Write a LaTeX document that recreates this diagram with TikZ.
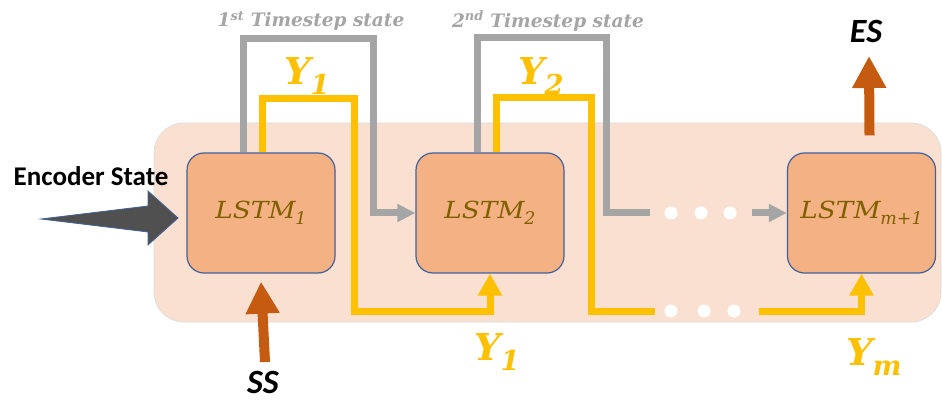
\documentclass[tikz,border=0pt]{standalone}
\usepackage{fontspec}
\newfontfamily\calibri{Carlito}
\newfontfamily\dserif{DejaVu Serif}
\usetikzlibrary{arrows.meta}
\definecolor{panelfill}{HTML}{F9E0D0}
\definecolor{panelline}{HTML}{DDDDDD}
\definecolor{boxfill}{HTML}{F4B183}
\definecolor{boxline}{HTML}{41619C}
\definecolor{olive}{HTML}{7F6000}
\definecolor{ygold}{HTML}{FFC000}
\definecolor{sgray}{HTML}{A5A5A5}
\definecolor{rust}{HTML}{C55A11}
\definecolor{encgray}{HTML}{505050}
\newcommand{\sbx}[1]{\raisebox{-0.27em}{\fontsize{0.74em}{1em}\selectfont #1}}
\tikzset{
  panelbox/.style={fill=panelfill,draw=panelline,line width=0.8pt,rounded corners=30pt},
  lstm/.style={fill=boxfill,draw=boxline,line width=1.2pt,rounded corners=17pt,
    minimum width=148pt,minimum height=120pt,inner sep=0pt,text=olive,
    font=\dserif\itshape\fontsize{23.5}{26}\selectfont},
  grayline/.style={draw=sgray,line width=7pt},
  grayarrow/.style={grayline,-{Triangle[length=18pt,width=17pt]}},
  yline/.style={draw=ygold,line width=7pt},
  yarrow/.style={yline,-{Triangle[length=22pt,width=23pt]}},
  bigarrow/.style={draw=rust,line width=10pt,-{Triangle[length=32pt,width=32pt]}},
  dot/.style={circle,fill=white,minimum size=13pt,inner sep=0pt},
  ylabel/.style={text=ygold,font=\dserif\bfseries\itshape\fontsize{37}{40}\selectfont,inner sep=0pt},
  tlabel/.style={text=sgray,font=\dserif\bfseries\itshape\fontsize{18.5}{21}\selectfont,inner sep=0pt},
  blabel/.style={text=black,font=\calibri\bfseries\itshape\fontsize{34}{36}\selectfont,inner sep=0pt},
}
\begin{document}
\begin{tikzpicture}[x=1pt,y=-1pt]
\useasboundingbox (0,0) rectangle (942,403);
\draw[panelbox] (154,123) rectangle (941,322);
\node[lstm] (l1) at (261,213) {\scalebox{1.12}[1]{LSTM}\sbx{1}};
\node[lstm] (l2) at (490,213) {\scalebox{1.12}[1]{LSTM}\sbx{2}};
\node[lstm] (lm) at (861.5,213) {\scalebox{1.12}[1]{LSTM}\sbx{m+1}};
% state lines
\draw[grayarrow] ([xshift=-18pt]l1.north) |- (373,39) |- (l2.west);
\draw[grayline] ([xshift=-13pt]l2.north) |- (606,38) |- (650,213);
\coordinate (g2) at (752,213);
\draw[grayarrow] (g2) -- (lm.west);
\node[dot] (gd1) at (671,213) {};
\node[dot] (gd2) at (701,213) {};
\node[dot] (gd3) at (730,213) {};
% output lines
\draw[yarrow] ([xshift=1pt]l1.north) |- (354,99) |- (490,311) -- (l2.south);
\draw[yline] ([xshift=6pt]l2.north) |- (591,98) |- (655,311);
\coordinate (y2) at (759,311);
\draw[yarrow] (y2) -| (lm.south);
\node[dot] (yd1) at (671,311) {};
\node[dot] (yd2) at (704,311) {};
\node[dot] (yd3) at (734,311) {};
% labels
\node[tlabel] (t1) at (311,21) {1\textsuperscript{st} Timestep state};
\node[tlabel] (t2) at (548,21) {2\textsuperscript{nd} Timestep state};
\node[ylabel] (ya) at (307,76) {Y\sbx{1}};
\node[ylabel] (yb) at (541,76) {Y\sbx{2}};
\node[ylabel] (yc) at (497,352) {Y\sbx{1}};
\node[ylabel] (yd) at (874,357) {Y\sbx{m}};
% encoder
\node[font=\calibri\bfseries\fontsize{27}{30}\selectfont,inner sep=0pt] (enc) at (91,176) {Encoder State};
\filldraw[fill=encgray,draw=boxline,line width=0.8pt] (41,219) -- (148,206) -- (148,191) -- (178,218) -- (148,245) -- (148,232) -- cycle;
% SS / ES
\node[blabel] (ss) at (263,382) {SS};
\node[blabel] (es) at (866,31) {ES};
\draw[bigarrow] (265,362) -- ([yshift=-8pt]l1.south);
\draw[bigarrow] ([xshift=8pt]lm.north) ++(0,-17) -- (869,56);
\end{tikzpicture}
\end{document}
